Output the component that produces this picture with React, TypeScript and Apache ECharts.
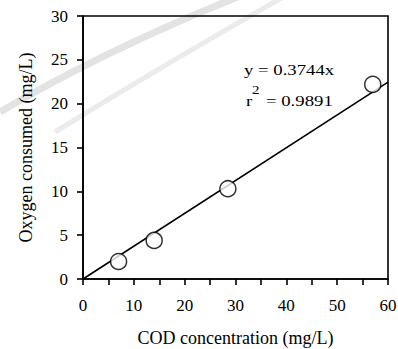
import React, { useEffect, useRef } from "react";
import * as echarts from "echarts";

const codConcentration = [7, 14, 28.5, 57];
const oxygenConsumed = [2.0, 4.4, 10.3, 22.2];
const fitX = [0, 60];
const fitY = [0, 22.46];
const xTitle = "COD concentration (mg/L)";
const yTitle = "Oxygen consumed (mg/L)";
const equationText = "y = 0.3744x";
const r2Value = "= 0.9891";
const xLabelStep = 10;

const FONT = '"Liberation Serif", "Times New Roman", serif';

export default function App() {
  const ref = useRef<HTMLDivElement>(null);
  useEffect(() => {
    if (!ref.current) return;
    const chart = echarts.init(ref.current, undefined, { renderer: "svg" });
    const axisLine = { show: true, lineStyle: { color: "#000", width: 1.6 } };
    const axisTick = { show: true, inside: false, length: 6, lineStyle: { color: "#000", width: 1.6 } };
    const txt = (text: string, x: number, y: number, size: number) => ({
      type: "text", x, y, z: 10, scaleX: 1.25, silent: true,
      style: { text, font: `${size}px ${FONT}`, fill: "#000", verticalAlign: "middle" },
    });
    chart.setOption({
      animation: false,
      backgroundColor: "#fff",
      grid: {
        left: 83, right: 10, top: 16, bottom: 70,
        show: true, borderColor: "#000", borderWidth: 1.6,
        outerBoundsMode: "none", containLabel: false,
      },
      xAxis: {
        type: "value", min: 0, max: 60, interval: 5,
        axisLine, axisTick,
        splitLine: { show: false },
        axisLabel: {
          color: "#000", fontFamily: FONT, fontSize: 17, margin: 18,
          formatter: (v: number) => (v % xLabelStep === 0 ? String(v) : ""),
        },
        name: xTitle, nameLocation: "middle", nameGap: 50,
        nameTextStyle: { color: "#000", fontFamily: FONT, fontSize: 18 },
      },
      yAxis: {
        type: "value", min: 0, max: 30, interval: 5,
        axisLine, axisTick,
        splitLine: { show: false },
        axisLabel: { color: "#000", fontFamily: FONT, fontSize: 17, margin: 15 },
        name: yTitle, nameLocation: "middle", nameGap: 48,
        nameTextStyle: { color: "#000", fontFamily: FONT, fontSize: 18 },
      },
      graphic: [
        { type: "bezierCurve", z: -10, silent: true,
          shape: { x1: 0, y1: 112, x2: 240, y2: -4, cpx1: 105, cpy1: 50 },
          style: { stroke: "#e3e3e3", lineWidth: 7, fill: null } },
        { type: "bezierCurve", z: -10, silent: true,
          shape: { x1: 55, y1: 132, x2: 285, y2: -4, cpx1: 165, cpy1: 64 },
          style: { stroke: "#ebebeb", lineWidth: 5, fill: null } },
        txt(equationText, 244, 70, 15),
        txt("r", 246, 101, 15),
        txt("2", 252, 90, 12),
        txt(r2Value, 266, 101, 15),
      ],
      series: [
        {
          type: "line",
          data: fitX.map((x, i) => [x, fitY[i]]),
          symbol: "none",
          lineStyle: { color: "#000", width: 1.6 },
          z: 2,
        },
        {
          type: "scatter",
          data: codConcentration.map((x, i) => [x, oxygenConsumed[i]]),
          symbol: "circle",
          symbolSize: 16,
          itemStyle: { color: "#fff", borderColor: "#000", borderWidth: 1.5 },
          z: 3,
        },
      ],
    });
    return () => chart.dispose();
  }, []);
  return <div ref={ref} style={{ width: 398, height: 349, position: "absolute", left: 0, top: 0 }} />;
}
